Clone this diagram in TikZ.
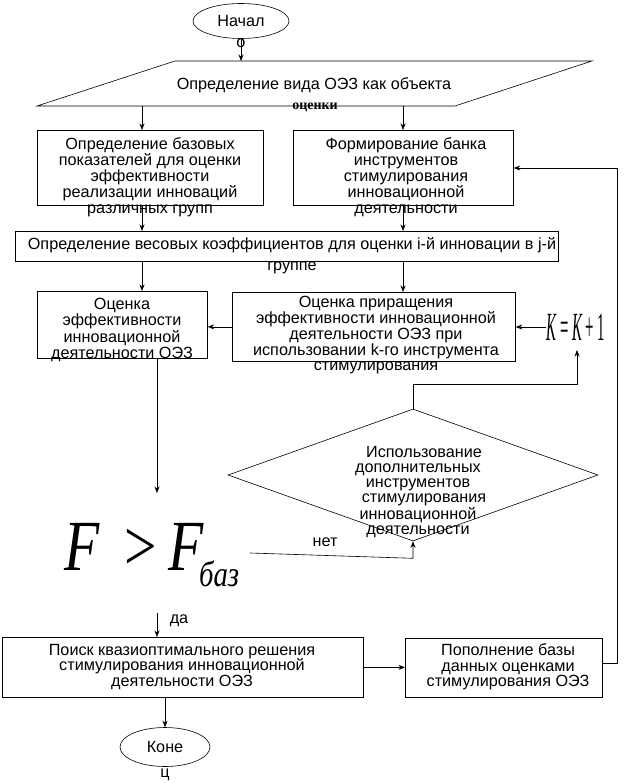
\documentclass[tikz,border=0pt]{standalone}
\usepackage{fontspec}
\setmainfont{Liberation Sans}
\newfontfamily\serifF{Liberation Serif}
\usetikzlibrary{shapes.geometric,arrows.meta,calc}
\begin{document}
\begin{tikzpicture}[x=1pt,y=-1pt,
  box/.style={draw,line width=0.7pt,inner sep=0pt,anchor=north west},
  txt/.style={align=center,inner sep=0pt,font=\fontsize{16.2}{16}\selectfont},
  arr/.style={-{Stealth[length=6.5pt,width=5pt]},line width=0.6pt},
  ln/.style={line width=0.6pt},
  oval/.style={draw,ellipse,line width=0.6pt,inner sep=0pt,font=\fontsize{16.2}{16}\selectfont}]
\useasboundingbox (0,0) rectangle (631,783);
% start
\node[oval,minimum width=96pt,minimum height=35pt] (start) at (241,21) {Начал};
\node[txt] (startO) at (241,43) {о};
% parallelogram
\draw[ln] (175,61) -- (592,61) -- (455,106) -- (37,106) -- cycle;
\coordinate (paraTop) at (241,61);
\coordinate (paraB1) at (142,106);
\coordinate (paraB2) at (403,106);
\node[txt] (paraT) at (314,85) {Определение вида ОЭЗ как объекта};
\node[inner sep=0pt,font=\serifF\bfseries\fontsize{14}{14}\selectfont] (paraT2) at (315,107) {оценки};
% boxes
\node[box,minimum width=226pt,minimum height=75pt] (b1) at (37,130) {};
\node[box,minimum width=220pt,minimum height=75pt] (b2) at (293,130) {};
\node[box,minimum width=543pt,minimum height=30pt] (b3) at (15,231) {};
\node[box,minimum width=170pt,minimum height=67pt] (b4) at (37,291) {};
\node[box,minimum width=283pt,minimum height=69pt] (b5) at (232,292) {};
\node[box,minimum width=361pt,minimum height=60pt] (b6) at (2,637) {};
\node[box,minimum width=197pt,minimum height=59pt] (b7) at (405,638) {};
\node[diamond,draw,line width=0.6pt,minimum width=370pt,minimum height=132pt,inner sep=0pt] (dia) at (413,475) {};
% texts
\node[txt] (t1) at (150,177) {Определение базовых\\показателей для оценки\\эффективности\\реализации инноваций\\различных групп};
\node[txt] (t2) at (406,177) {Формирование банка\\инструментов\\стимулирования\\инновационной\\деятельности};
\node[txt,font=\fontsize{16.2}{21}\selectfont] (t3) at (292,256) {Определение весовых коэффициентов для оценки i-й инновации в j-й\\группе};
\node[txt,font=\fontsize{16.2}{16.5}\selectfont] (t4) at (122,330) {Оценка\\эффективности\\инновационной\\деятельности ОЭЗ};
\node[txt,font=\fontsize{16.2}{14.6}\selectfont] (t5) at (376,335) {Оценка приращения\\эффективности инновационной\\деятельности ОЭЗ при\\использовании k-го инструмента\\стимулирования};
\node[txt,font=\fontsize{16.2}{15}\selectfont] (td) at (418,492) {\hspace*{12pt}Использование\\дополнительных\\инструментов\\\hspace*{12pt}стимулирования\\инновационной\\деятельности};
\node[txt,font=\fontsize{16.2}{15.5}\selectfont] (t6) at (182,667) {Поиск квазиоптимального решения\\стимулирования инновационной\\деятельности ОЭЗ};
\node[txt,font=\fontsize{16.2}{15.5}\selectfont] (t7) at (508,667) {Пополнение базы\\данных оценками\\стимулирования ОЭЗ};
% K = K + 1
\node[inner sep=0pt] (K) at (576,327) {\scalebox{0.37}[1]{\serifF\fontsize{40}{40}\selectfont\itshape K \upshape= \itshape K \upshape+ 1}};
\coordinate (kB) at (577,350);
% condition
\node[anchor=base west,inner sep=0pt] (cond) at (64,570) {\scalebox{0.8}[1]{\serifF\fontsize{72}{72}\selectfont\itshape F\hspace{32pt}\upshape>\hspace{14pt}\itshape F\hspace{-6pt}\raisebox{-16pt}{\fontsize{36}{36}\selectfont баз}}};
\coordinate (cT) at (157,493);
\coordinate (cE) at (250,553);
\coordinate (cB) at (157,613);
\node[txt] (net) at (325,542) {нет};
\node[txt] (da) at (179,621) {да};
% end
\node[oval,minimum width=90pt,minimum height=39pt] (end) at (165,747) {Коне};
\node[txt] (endC) at (165,775) {ц};
\coordinate (rt) at (617,168);
% connectors
\draw[arr] (start.south) -- (paraTop);
\draw[arr] (paraB1) -- (paraB1 |- b1.north);
\draw[arr] (paraB2) -- (paraB2 |- b2.north);
\draw[arr] (paraB1 |- b1.south) -- (paraB1 |- b3.north);
\draw[arr] (paraB2 |- b2.south) -- (paraB2 |- b3.north);
\draw[arr] (paraB1 |- b3.south) -- (paraB1 |- b4.north);
\draw[arr] (paraB2 |- b3.south) -- (paraB2 |- b5.north);
\draw[arr] (b5.west) -- (b5.west -| b4.east);
\draw[arr] (K.west) -- (K.west -| b5.east);
\draw[arr] (dia.north) -- ($(dia.north)+(0,-24)$) -| (kB);
\draw[arr] (b4.south -| cT) -- (cT);
\draw[arr] (cE) -- ($(dia.south)+(0,17)$) -- (dia.south);
\draw[arr] (cB) -- (cB |- b6.north);
\draw[arr] (b6.east) -- (b6.east -| b7.west);
\draw[arr] ($(b7.east)+(0,-5)$) -| (rt) -- (rt -| b2.east);
\draw[arr] (b6.south -| end.north) -- (end.north);
\end{tikzpicture}
\end{document}
